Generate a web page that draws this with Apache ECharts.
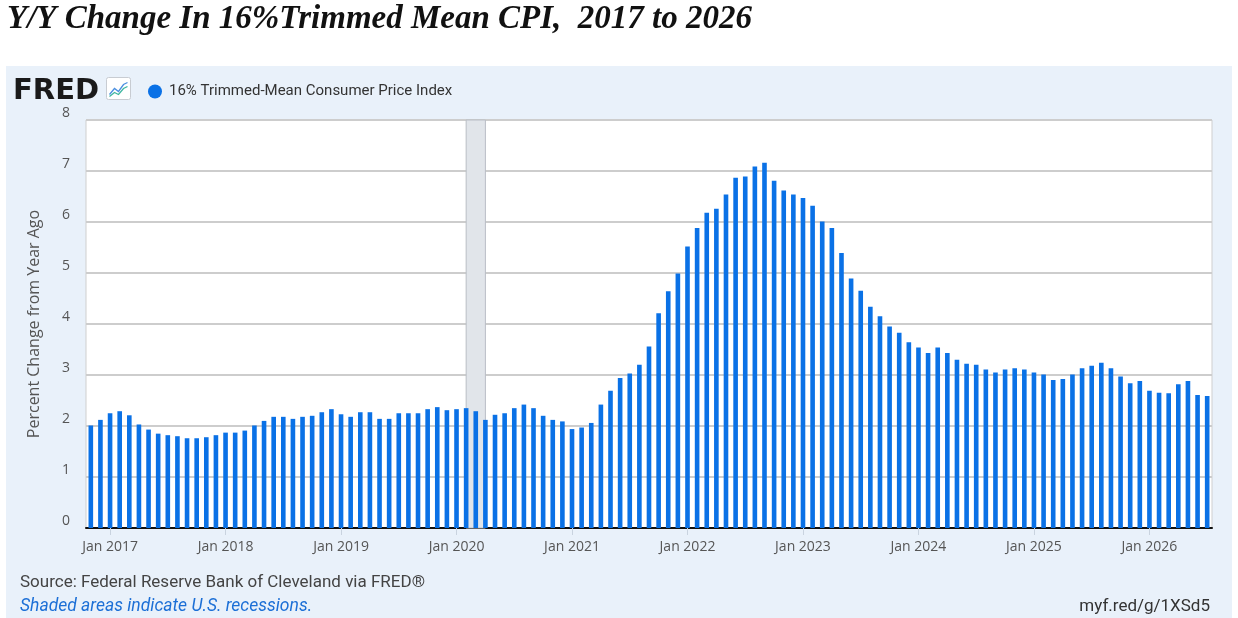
<!DOCTYPE html>
<html>
<head>
<meta charset="utf-8">
<script src="https://cdn.jsdelivr.net/npm/echarts@6/dist/echarts.min.js"></script>
<style>
  html, body { margin: 0; padding: 0; background: #fff; }
  #chart { width: 1238px; height: 618px; }
</style>
</head>
<body>
<div id="chart"></div>
<script>
const monthNames = ["Jan","Feb","Mar","Apr","May","Jun","Jul","Aug","Sep","Oct","Nov","Dec"];
const firstYear = 2016, firstMonth = 10; // Nov 2016
const barCount = 117;                    // through Jul 2026

// 16% trimmed-mean CPI, percent change from year ago (monthly)
const trimmedMean = [
  2.01, 2.12,
  2.25, 2.29, 2.21, 2.03, 1.93, 1.85, 1.82, 1.80, 1.76, 1.76, 1.78, 1.82,
  1.87, 1.87, 1.91, 2.01, 2.10, 2.18, 2.18, 2.14, 2.18, 2.20, 2.27, 2.33,
  2.23, 2.18, 2.27, 2.27, 2.14, 2.14, 2.25, 2.25, 2.25, 2.33, 2.37, 2.31,
  2.33, 2.35, 2.29, 2.12, 2.22, 2.25, 2.35, 2.42, 2.35, 2.20, 2.12, 2.09,
  1.94, 1.97, 2.06, 2.42, 2.69, 2.94, 3.03, 3.20, 3.56, 4.21,
  4.64, 4.99, 5.52, 5.88, 6.18, 6.26, 6.54, 6.87, 6.89, 7.09, 7.16, 6.81,
  6.62, 6.54, 6.47, 6.32, 6.01, 5.88, 5.39, 4.89, 4.65, 4.34, 4.15, 3.95,
  3.83, 3.64, 3.54, 3.43, 3.54, 3.43, 3.30, 3.22, 3.20, 3.11, 3.05, 3.11,
  3.13, 3.11, 3.05, 3.01, 2.90, 2.92, 3.01, 3.13, 3.18, 3.24, 3.13, 2.97,
  2.84, 2.88,
  2.69, 2.65, 2.64, 2.82, 2.88, 2.61, 2.59
];

const recession = ["Feb 2020", "Apr 2020"];

const months = [];
for (let k = 0; k < barCount; k++) {
  const m = (firstMonth + k) % 12;
  const y = firstYear + Math.floor((firstMonth + k) / 12);
  months.push(`${monthNames[m]} ${y}`);
}
const isJan = (i, v) => String(v).startsWith("Jan");
const YMAX = 8;

const BLUE = "#0a71e6";
const chart = echarts.init(document.getElementById("chart"));
chart.setOption({
  animation: false,
  backgroundColor: "#fff",
  textStyle: { fontFamily: "Roboto, 'Noto Sans', sans-serif" },
  graphic: [
    { type: "rect", left: 6, top: 66, z: -10, shape: { width: 1226, height: 552 },
      style: { fill: "#e9f1fa" } },
    { type: "text", left: 7, top: 3, style: {
        text: "Y/Y Change In 16%Trimmed Mean CPI,  2017 to 2026",
        font: "italic bold 33px 'Liberation Serif', serif", fill: "#111" } },
    { type: "text", left: 13, top: 77, style: {
        text: "FRED", font: "bold 29px 'DejaVu Sans', sans-serif", fill: "#1a1a1a" } },
    { type: "group", left: 106, top: 77, children: [
      { type: "rect", shape: { x: 0, y: 0, width: 24, height: 22, r: 2 },
        style: { fill: "#fff", stroke: "#c8ccd2", lineWidth: 1 } },
      { type: "polyline", shape: { points: [[3,17],[8,11],[12,14],[17,7],[21,5]] },
        style: { stroke: "#4b8fe0", lineWidth: 1.3, fill: null } },
      { type: "polyline", shape: { points: [[3,19],[8,15],[12,17],[17,11],[21,9]] },
        style: { stroke: "#3fb7a0", lineWidth: 1.3, fill: null } }
    ] },
    { type: "text", left: 20, top: 574, style: {
        text: "Source: Federal Reserve Bank of Cleveland via FRED®",
        font: "17px Roboto, sans-serif", fill: "#444" } },
    { type: "text", left: 20, top: 598, style: {
        text: "Shaded areas indicate U.S. recessions.",
        font: "italic 17.5px Roboto, sans-serif", fill: "#1c6fd6" } },
    { type: "text", right: 28, top: 598, style: {
        text: "myf.red/g/1XSd5", font: "17px Roboto, sans-serif", fill: "#333" } }
  ],
  legend: {
    left: 143, top: 79, icon: "circle", itemWidth: 14, itemHeight: 14, itemGap: 8,
    textStyle: { fontSize: 15, color: "#333", fontFamily: "Roboto, sans-serif", padding: [0, 0, 0, 2] },
    data: ["16% Trimmed-Mean Consumer Price Index"]
  },
  grid: { left: 86, right: 26, top: 120, bottom: 90, show: true,
    backgroundColor: "#fff", borderColor: "#cfcfcf", borderWidth: 1 },
  xAxis: {
    type: "category", data: months, boundaryGap: true,
    axisLine: { lineStyle: { color: "#111", width: 2 } },
    axisTick: { show: true, alignWithLabel: true, interval: isJan, length: 7,
      lineStyle: { color: "#c9d3df" } },
    axisLabel: { interval: isJan, color: "#555", fontSize: 14, margin: 12,
      fontFamily: "'Open Sans', sans-serif" },
    splitLine: { show: false }
  },
  yAxis: {
    type: "value", min: 0, max: YMAX, interval: 1,
    name: "Percent Change from Year Ago", nameLocation: "middle", nameGap: 44,
    nameTextStyle: { color: "#555", fontSize: 16, fontFamily: "'Open Sans', sans-serif" },
    axisLine: { show: false }, axisTick: { show: false },
    axisLabel: { color: "#555", fontSize: 14, margin: 16, verticalAlign: "bottom",
      fontFamily: "'Open Sans', sans-serif" },
    splitLine: { lineStyle: { color: "#cdcdcd", width: 2 } }
  },
  series: [
    {
      name: "recession", type: "custom", z: 1, silent: true,
      data: [[months.indexOf(recession[0]), months.indexOf(recession[1])]],
      encode: { x: [0, 1] },
      renderItem: (params, api) => {
        const a = api.coord([api.value(0), YMAX]);
        const b = api.coord([api.value(1), 0]);
        return {
          type: "rect",
          shape: { x: a[0], y: a[1], width: b[0] - a[0], height: b[1] - a[1] },
          style: { fill: "#e1e5ea", stroke: "#b9bec5", lineWidth: 1 }
        };
      }
    },
    {
      name: "16% Trimmed-Mean Consumer Price Index",
      type: "bar", data: trimmedMean, barWidth: "48%", z: 2,
      itemStyle: { color: BLUE }
    }
  ]
});
</script>
</body>
</html>
